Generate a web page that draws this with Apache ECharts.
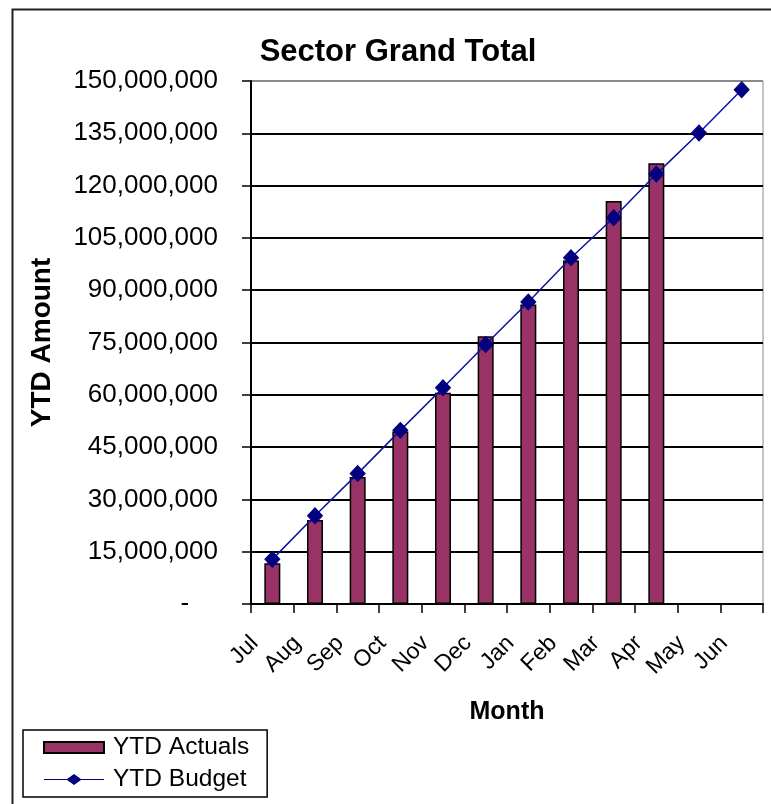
<!DOCTYPE html>
<html>
<head>
<meta charset="utf-8">
<script src="https://cdn.jsdelivr.net/npm/echarts@6/dist/echarts.min.js"></script>
<style>
html,body{margin:0;padding:0;background:#fff;}
#chart{width:771px;height:804px;}
</style>
</head>
<body>
<div id="chart"></div>
<script>
const months = ['Jul','Aug','Sep','Oct','Nov','Dec','Jan','Feb','Mar','Apr','May','Jun'];
const ytdActuals = [11700000, 24100000, 36400000, 49500000, 60600000, 76800000, 85900000, 98500000, 115600000, 126400000, null, null];
const ytdBudget = [12800000, 25300000, 37400000, 49800000, 62000000, 74400000, 86600000, 99300000, 110800000, 123300000, 135100000, 147500000];
const yMin = 0, yMax = 150000000, yStep = 15000000;

const FONT = '"Liberation Sans", Arial, sans-serif';
const splitColors = [];
for (let i = 0; i <= (yMax - yMin) / yStep; i++) splitColors.push(i === (yMax - yMin) / yStep ? '#8a8a8a' : '#000');

const lineLegendIcon = 'path://M0,5.0 L23,5.0 L30,0 L37,5.0 L60,5.0 L60,6.0 L37,6.0 L30,11 L23,6.0 L0,6.0 Z';

const chart = echarts.init(document.getElementById('chart'), null, {renderer: 'canvas'});
chart.setOption({
  backgroundColor: '#fff',
  animation: false,
  textStyle: {fontFamily: FONT, color: '#000'},
  graphic: [{
    type: 'rect', left: 10, top: 7, z: -10,
    shape: {width: 820, height: 900},
    style: {fill: 'none', stroke: '#222', lineWidth: 2}
  }],
  title: {
    text: 'Sector Grand Total',
    left: 393, textAlign: 'center', top: 32,
    textStyle: {fontFamily: FONT, fontSize: 31, fontWeight: 'bold', color: '#000'}
  },
  legend: {
    orient: 'vertical', left: 23, top: 730,
    padding: [5, 18, 5, 20],
    itemGap: 7, itemWidth: 60, itemHeight: 11,
    borderColor: '#000', borderWidth: 1.5,
    textStyle: {fontFamily: FONT, fontSize: 24.5, color: '#000', padding: [0, 0, 0, 4]},
    data: [
      {name: 'YTD Actuals', icon: 'rect'},
      {name: 'YTD Budget', icon: lineLegendIcon, itemStyle: {color: '#000080', borderWidth: 0}}
    ]
  },
  grid: {left: 251, right: 8, top: 81, bottom: 200, show: true, borderColor: '#8a8a8a', borderWidth: 1, backgroundColor: 'transparent'},
  xAxis: {
    type: 'category', data: months, boundaryGap: true,
    name: 'Month', nameLocation: 'middle', nameGap: 96,
    nameTextStyle: {fontFamily: FONT, fontSize: 25, fontWeight: 'bold', color: '#000', verticalAlign: 'top'},
    axisLine: {lineStyle: {color: '#000', width: 2}},
    axisTick: {show: true, length: 9, inside: false, alignWithLabel: false, lineStyle: {color: '#000', width: 1.5}},
    axisLabel: {rotate: 45, margin: 18, padding: [0, 25, 0, 0], fontFamily: FONT, fontSize: 23, color: '#000', interval: 0}
  },
  yAxis: {
    type: 'value', min: yMin, max: yMax, interval: yStep,
    name: 'YTD Amount', nameLocation: 'middle', nameGap: 195, nameRotate: 90,
    nameTextStyle: {fontFamily: FONT, fontSize: 28, fontWeight: 'bold', color: '#000'},
    axisLine: {show: true, lineStyle: {color: '#000', width: 2}},
    axisTick: {show: true, length: 9, inside: false, lineStyle: {color: '#000', width: 1.5}},
    splitLine: {show: true, lineStyle: {color: splitColors, width: 1.8}},
    axisLabel: {
      margin: 33, fontFamily: FONT, fontSize: 26, color: '#000',
      formatter: function (v) {
        if (v === 0) return '-    ';
        return v.toString().replace(/\B(?=(\d{3})+(?!\d))/g, ',');
      }
    }
  },
  series: [
    {
      name: 'YTD Actuals', type: 'bar', data: ytdActuals, barWidth: 16,
      itemStyle: {color: '#993366', borderColor: '#000', borderWidth: 1.5}
    },
    {
      name: 'YTD Budget', type: 'line', data: ytdBudget,
      symbol: 'diamond', symbolSize: [15, 16],
      lineStyle: {color: '#1010a0', width: 1.5},
      itemStyle: {color: '#000080', borderColor: '#000080'}
    }
  ]
});
</script>
</body>
</html>
